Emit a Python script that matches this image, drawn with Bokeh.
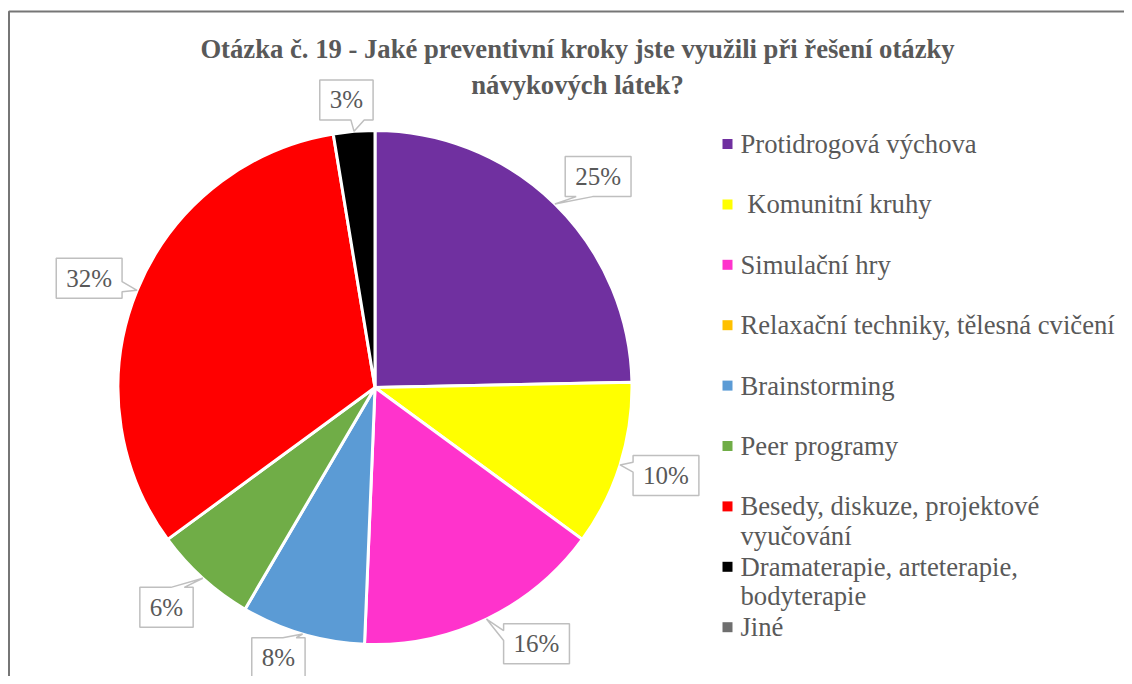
import math
from bokeh.plotting import figure
from bokeh.models import Range1d
from bokeh.core.properties import value
from bokeh.embed import file_html
from bokeh.resources import INLINE

# ---------------- data ----------------
title_lines = ["Otázka č. 19 - Jaké preventivní kroky jste využili při řešení otázky",
               "návykových látek?"]
categories = ["Protidrogová výchova",
              " Komunitní kruhy",
              "Simulační hry",
              "Relaxační techniky, tělesná cvičení",
              "Brainstorming",
              "Peer programy",
              "Besedy, diskuze, projektové\nvyučování",
              "Dramaterapie, arteterapie,\nbodyterapie",
              "Jiné"]
counts = [19, 8, 12, 0, 6, 5, 25, 2, 0]
colors = ["#7030A0", "#FFFF00", "#FF33CC", "#FFC000", "#5B9BD5",
          "#70AD47", "#FF0000", "#000000", "#6F6F6F"]

# ---------------- layout (picture pixels, y downward) ----------------
W, H = 1124, 676
CX, CY, R = 374.5, 387.0, 257.0
# per-slice label placement tweaks: (angle offset in degrees, radius)
LABEL_ANGLE_OFF = [2.2, -0.7, -6.5, 0.0, 3.3, 1.4, -1.3, -1.0, 0.0]
LABEL_RADIUS = [307, 304, 303, 303, 287, 303, 306, 289, 303]
LABEL_FONT_PX = 25
BOX_H = 40
TEXT_COLOR = "#595959"
FONT = "Liberation Serif"
LEG_MARK_X, LEG_TEXT_X = 727, 740
LEG_Y0, LEG_STEP, LEG_LINE = 143.5, 60.4, 29.5
LEG_FONT_PX = 26.67


def Y(py):
    return H - py


p = figure(width=W, height=H, output_backend="svg", toolbar_location=None,
           x_range=Range1d(0, W), y_range=Range1d(0, H),
           x_axis_type=None, y_axis_type=None, min_border=0)
p.grid.visible = False
p.outline_line_color = None
p.background_fill_color = "white"
p.border_fill_color = "white"

# chart-area border (only left and top edges are visible in the crop)
p.line(x=[8.5, 8.5, W + 20], y=[Y(H + 20), Y(11), Y(11)],
       line_color="#767676", line_width=2)

total = float(sum(counts))
cum = 0.0
box_xs, box_ys, lab_x, lab_y, lab_t = [], [], [], [], []
for i, c in enumerate(counts):
    t0 = cum / total * 2 * math.pi
    t1 = (cum + c) / total * 2 * math.pi
    cum += c
    if c <= 0:
        continue
    p.wedge(x=CX, y=Y(CY), radius=R,
            start_angle=math.pi / 2 - t1, end_angle=math.pi / 2 - t0,
            fill_color=colors[i], line_color="white", line_width=3)
    mid = (t0 + t1) / 2
    tipx, tipy = CX + R * math.sin(mid), CY - R * math.cos(mid)
    la = mid + math.radians(LABEL_ANGLE_OFF[i])
    cx, cy = CX + LABEL_RADIUS[i] * math.sin(la), CY - LABEL_RADIUS[i] * math.cos(la)
    txt = "%d%%" % round(c / total * 100)
    tw = (0.5 * (len(txt) - 1) + 0.833) * LABEL_FONT_PX
    w, h = tw + 20, BOX_H
    l, r, t, b = cx - w / 2, cx + w / 2, cy - h / 2, cy + h / 2
    dxp, dyp = (tipx - cx) / w, (tipy - cy) / h
    x1 = l + w * (7 / 12 if dxp > 0 else 2 / 12)
    x2 = l + w * (10 / 12 if dxp > 0 else 5 / 12)
    y1 = t + h * (7 / 12 if dyp > 0 else 2 / 12)
    y2 = t + h * (10 / 12 if dyp > 0 else 5 / 12)
    tip = (tipx, tipy)
    pts = [(l, t)]
    if abs(dyp) >= abs(dxp) and dyp < 0:
        pts += [(x1, t), tip, (x2, t)]
    pts += [(r, t)]
    if abs(dxp) > abs(dyp) and dxp > 0:
        pts += [(r, y1), tip, (r, y2)]
    pts += [(r, b)]
    if abs(dyp) >= abs(dxp) and dyp > 0:
        pts += [(x2, b), tip, (x1, b)]
    pts += [(l, b)]
    if abs(dxp) > abs(dyp) and dxp < 0:
        pts += [(l, y2), tip, (l, y1)]
    box_xs.append([q[0] for q in pts])
    box_ys.append([Y(q[1]) for q in pts])
    lab_x.append(cx)
    lab_y.append(Y(cy))
    lab_t.append(txt)

p.patches(xs=box_xs, ys=box_ys, fill_color="white", line_color="#BFBFBF", line_width=1.5)
p.text(x=lab_x, y=lab_y, text=lab_t, text_font=value(FONT),
       text_font_size=value("%dpx" % LABEL_FONT_PX), text_color=TEXT_COLOR,
       text_align="center", text_baseline="middle")

# title
p.text(x=[577, 577], y=[Y(48), Y(84)], text=title_lines, text_font=value(FONT),
       text_font_size=value("26.67px"), text_font_style="bold", text_color=TEXT_COLOR,
       text_align="center", text_baseline="middle")

# legend
mx, my, tx, ty, tt = [], [], [], [], []
for i, cat in enumerate(categories):
    yc = LEG_Y0 + LEG_STEP * i
    mx.append(LEG_MARK_X)
    my.append(Y(yc))
    for k, line in enumerate(cat.split("\n")):
        tx.append(LEG_TEXT_X)
        ty.append(Y(yc + k * LEG_LINE))
        tt.append(line.replace(" ", "\u00a0", 1) if line.startswith(" ") else line)
p.scatter(x=mx, y=my, marker="square", size=10, fill_color=colors, line_color=None)
p.text(x=tx, y=ty, text=tt, text_font=value(FONT),
       text_font_size=value("%.2fpx" % LEG_FONT_PX), text_color=TEXT_COLOR,
       text_align="left", text_baseline="middle")

open("out.html", "w").write(file_html(p, INLINE))
